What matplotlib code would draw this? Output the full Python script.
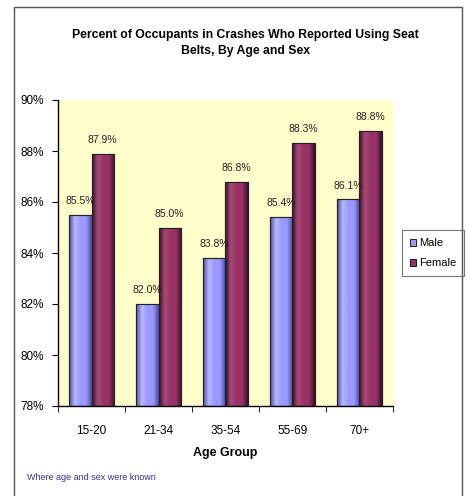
import matplotlib
matplotlib.use("Agg")
import matplotlib.pyplot as plt
import numpy as np
from matplotlib.colors import LinearSegmentedColormap
from matplotlib.patches import Rectangle, Patch

categories = ["15-20", "21-34", "35-54", "55-69", "70+"]
male = [85.5, 82.0, 83.8, 85.4, 86.1]
female = [87.9, 85.0, 86.8, 88.3, 88.8]
yticks = [78, 80, 82, 84, 86, 88, 90]

plt.rcParams['font.family'] = ['Liberation Sans', 'DejaVu Sans']

fig = plt.figure(figsize=(4.67, 4.96), dpi=100)
fig.patch.set_facecolor("white")
ax = fig.add_axes([58/467, 1-406/496, 335/467, 306/496])
ax.set_facecolor("#FFFFCC")

x = np.arange(len(categories))
w = 0.33
bm = ax.bar(x - w/2, male, w, bottom=0, color="#9999FF", edgecolor="#222222", linewidth=0.8, zorder=2)
bf = ax.bar(x + w/2, female, w, bottom=0, color="#993366", edgecolor="#222222", linewidth=0.8, zorder=2)

def grad(c_edge, c_mid, c_hi):
    return LinearSegmentedColormap.from_list("g", [c_edge, c_hi, c_mid, c_mid, c_edge])

cm_m = grad("#4a4a99", "#9999FF", "#b8b8ff")
cm_f = grad("#3a1028", "#993366", "#a84a78")
g = np.linspace(0, 1, 64).reshape(1, -1)
for bars, cm in ((bm, cm_m), (bf, cm_f)):
    for b in bars:
        x0 = b.get_x(); h = b.get_height()
        im = ax.imshow(g, cmap=cm, aspect="auto", extent=(x0, x0 + b.get_width(), 78, h), zorder=2.5)
        im.set_clip_path(b)
        ax.add_patch(Rectangle((x0, 78), b.get_width(), h-78, fill=False,
                               edgecolor="#222222", linewidth=0.8, zorder=3))

for bars, vals in ((bm, male), (bf, female)):
    for b, v in zip(bars, vals):
        ax.text(b.get_x() + b.get_width()/2, v + 0.35, f"{v:.1f}%", ha="center", va="bottom",
                fontsize=7.5, color="#222222")

ax.set_ylim(78, 90)
ax.set_xlim(-0.5, len(categories) - 0.5)
ax.set_yticks(yticks)
ax.set_yticklabels([f"{t}%" for t in yticks], fontsize=8.5)
ax.set_xticks(x)
ax.set_xticklabels(categories, fontsize=8.5)
ax.set_xticks(np.arange(len(categories) + 1) - 0.5, minor=True)
ax.tick_params(axis="x", which="major", length=0, pad=14)
ax.tick_params(axis="x", which="minor", length=4, direction="out", color="black")
ax.tick_params(axis="y", length=4, direction="out", pad=6)
for s in ("top", "right"):
    ax.spines[s].set_visible(False)
for s in ("left", "bottom"):
    ax.spines[s].set_linewidth(1.0)
ax.set_xlabel("Age Group", fontsize=9, fontweight="bold", labelpad=7)

fig.text(0.5 + 12/467, 1-43/496, "Percent of Occupants in Crashes Who Reported Using Seat\nBelts, By Age and Sex",
         ha="center", va="center", fontsize=8.8, fontweight="bold", linespacing=1.35)

leg = ax.legend(handles=[Patch(facecolor="#9999FF", edgecolor="black", linewidth=0.6, label="Male"),
                         Patch(facecolor="#993366", edgecolor="black", linewidth=0.6, label="Female")],
                loc="center left", bbox_to_anchor=(1.0 + 9/335, 0.5), borderaxespad=0, fontsize=8,
                frameon=True, fancybox=False, edgecolor="#555555", handlelength=0.6, handleheight=0.6,
                handletextpad=0.2, borderpad=0.7, labelspacing=0.9)
leg.get_frame().set_linewidth(0.8)

fig.text(27/467, 1-477/496, "Where age and sex were known", fontsize=6.5, color="#333399",
         ha="left", va="center")

fig.add_artist(Rectangle((14/467, -0.01), (462-14)/467, 1-7/496+0.01, transform=fig.transFigure,
                         fill=False, edgecolor="#555555", linewidth=1.0))

fig.savefig("out.png", dpi=100)
